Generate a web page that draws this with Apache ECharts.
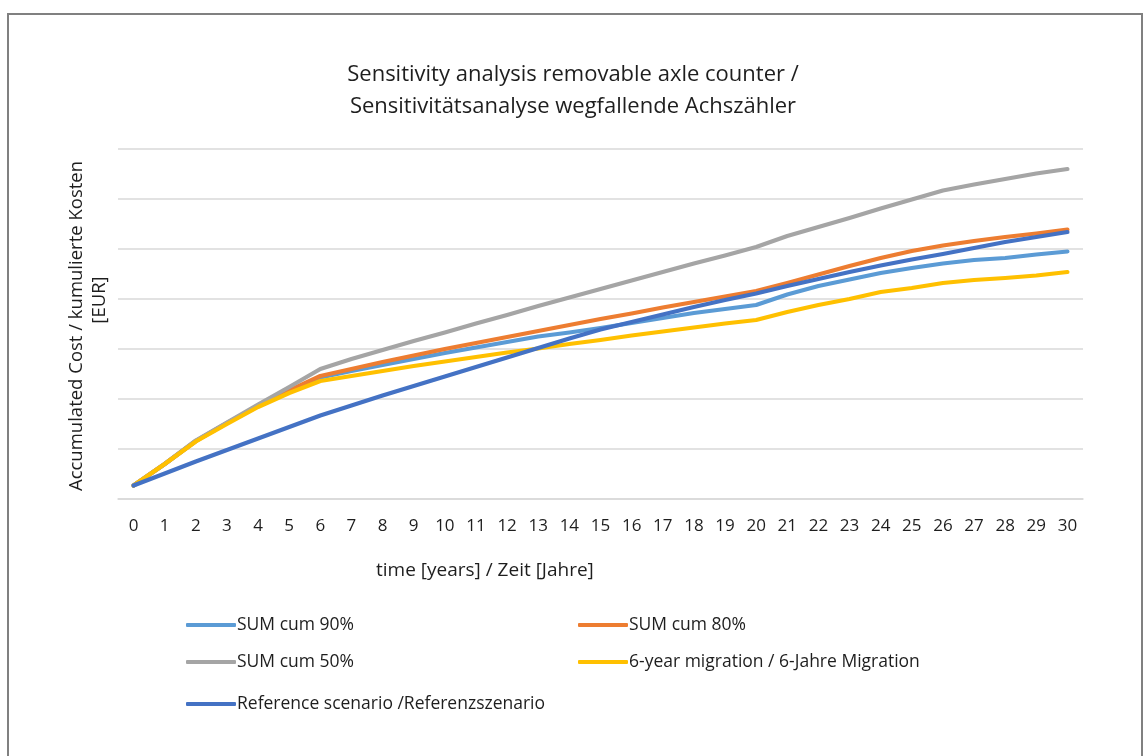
<!DOCTYPE html>
<html>
<head>
<meta charset="utf-8">
<script src="https://cdn.jsdelivr.net/npm/echarts@6/dist/echarts.min.js"></script>
<style>
  html, body { margin: 0; padding: 0; background: #ffffff; }
  #chart { width: 1146px; height: 756px; }
</style>
</head>
<body>
<div id="chart"></div>
<script>
// Years of the evaluation period
const years = ['0','1','2','3','4','5','6','7','8','9','10','11','12','13','14','15',
  '16','17','18','19','20','21','22','23','24','25','26','27','28','29','30'];

// Accumulated cost per scenario (relative units, y axis is unlabelled)
const sum90 = [0.27,0.70,1.16,1.52,1.86,2.16,2.43,2.56,2.68,2.80,2.92,3.03,3.14,3.25,3.33,3.42,
  3.52,3.62,3.72,3.80,3.88,4.09,4.26,4.39,4.52,4.62,4.71,4.78,4.82,4.89,4.95];
const sum80 = [0.27,0.70,1.16,1.52,1.86,2.17,2.46,2.60,2.74,2.87,3.00,3.12,3.24,3.36,3.48,3.60,
  3.71,3.83,3.94,4.05,4.16,4.32,4.49,4.66,4.82,4.96,5.07,5.16,5.24,5.31,5.39];
const sum50 = [0.27,0.70,1.17,1.53,1.89,2.24,2.60,2.80,2.98,3.16,3.33,3.51,3.68,3.86,4.03,4.20,
  4.37,4.54,4.71,4.87,5.04,5.26,5.44,5.62,5.81,5.99,6.17,6.29,6.40,6.51,6.60];
const migration6 = [0.27,0.70,1.15,1.50,1.84,2.12,2.36,2.46,2.56,2.66,2.75,2.84,2.93,3.01,3.10,3.18,
  3.27,3.35,3.43,3.51,3.58,3.74,3.88,4.00,4.14,4.22,4.32,4.38,4.42,4.47,4.54];
const reference = [0.27,0.51,0.75,0.98,1.21,1.44,1.67,1.87,2.07,2.26,2.45,2.64,2.83,3.02,3.21,3.39,
  3.54,3.69,3.84,3.98,4.11,4.26,4.40,4.54,4.67,4.79,4.90,5.02,5.14,5.24,5.34];

const seriesNames = [
  'SUM cum 90%',
  'SUM cum 80%',
  'SUM cum 50%',
  '6-year migration / 6-Jahre Migration',
  'Reference scenario /Referenzszenario'
];
const seriesData = [sum90, sum80, sum50, migration6, reference];
const colors = ['#5B9BD5', '#ED7D31', '#A5A5A5', '#FFC000', '#4472C4'];

const FONT = '"Open Sans", "Noto Sans", sans-serif';
const TEXT = '#1e1e1e';

// Legend placement: two columns, three rows
const legendPos = [
  { left: 186, top: 616 },
  { left: 578, top: 616 },
  { left: 186, top: 653 },
  { left: 578, top: 653 },
  { left: 186, top: 695 }
];

const chart = echarts.init(document.getElementById('chart'), null, { renderer: 'canvas' });

chart.setOption({
  animation: false,
  backgroundColor: '#ffffff',
  color: colors,
  title: {
    text: 'Sensitivity analysis removable axle counter /\nSensitivitätsanalyse wegfallende Achszähler',
    left: 'center',
    top: 59,
    padding: 0,
    textStyle: { fontFamily: FONT, fontSize: 22, fontWeight: 'normal', color: TEXT, lineHeight: 32 }
  },
  grid: { left: 118, right: 63, top: 149, bottom: 257, containLabel: false },
  xAxis: {
    type: 'category',
    data: years,
    boundaryGap: true,
    axisLine: { show: true, lineStyle: { color: '#d9d9d9', width: 1.5 } },
    axisTick: { show: false },
    axisLabel: { margin: 19, fontFamily: FONT, fontSize: 17, color: TEXT, interval: 0 },
    splitLine: { show: false }
  },
  yAxis: {
    type: 'value',
    min: 0,
    max: 7,
    interval: 1,
    axisLine: { show: false },
    axisTick: { show: false },
    axisLabel: { show: false },
    splitLine: { show: true, lineStyle: { color: '#d9d9d9', width: 1.5 } }
  },
  legend: seriesNames.map((name, i) => ({
    data: [name],
    left: legendPos[i].left,
    top: legendPos[i].top,
    padding: 0,
    orient: 'horizontal',
    icon: 'roundRect',
    itemWidth: 50,
    itemHeight: 4,
    itemGap: 0,
    selectedMode: false,
    textStyle: { fontFamily: FONT, fontSize: 17.5, color: TEXT, padding: [0, 0, 0, -4] }
  })),
  series: seriesNames.map((name, i) => ({
    name: name,
    type: 'line',
    data: seriesData[i],
    showSymbol: false,
    symbol: 'none',
    smooth: false,
    lineStyle: { width: 4.2, color: colors[i], cap: 'round', join: 'round' },
    itemStyle: { color: colors[i] },
    z: 2 + i
  })),
  graphic: [
    {
      type: 'rect',
      shape: { x: 8, y: 14, width: 1134, height: 800 },
      style: { fill: 'none', stroke: '#808080', lineWidth: 2 },
      silent: true,
      z: 100
    },
    {
      type: 'text',
      x: 376,
      y: 571,
      style: {
        text: 'time [years] / Zeit [Jahre]',
        font: '19px ' + FONT,
        fill: TEXT,
        align: 'left',
        verticalAlign: 'middle'
      }
    },
    {
      type: 'text',
      x: 77,
      y: 326,
      rotation: Math.PI / 2,
      style: {
        text: 'Accumulated Cost / kumulierte Kosten',
        font: '18.5px ' + FONT,
        fill: TEXT,
        align: 'center',
        verticalAlign: 'middle'
      }
    },
    {
      type: 'text',
      x: 100,
      y: 300,
      rotation: Math.PI / 2,
      style: {
        text: '[EUR]',
        font: '18.5px ' + FONT,
        fill: TEXT,
        align: 'center',
        verticalAlign: 'middle'
      }
    }
  ]
});
</script>
</body>
</html>
